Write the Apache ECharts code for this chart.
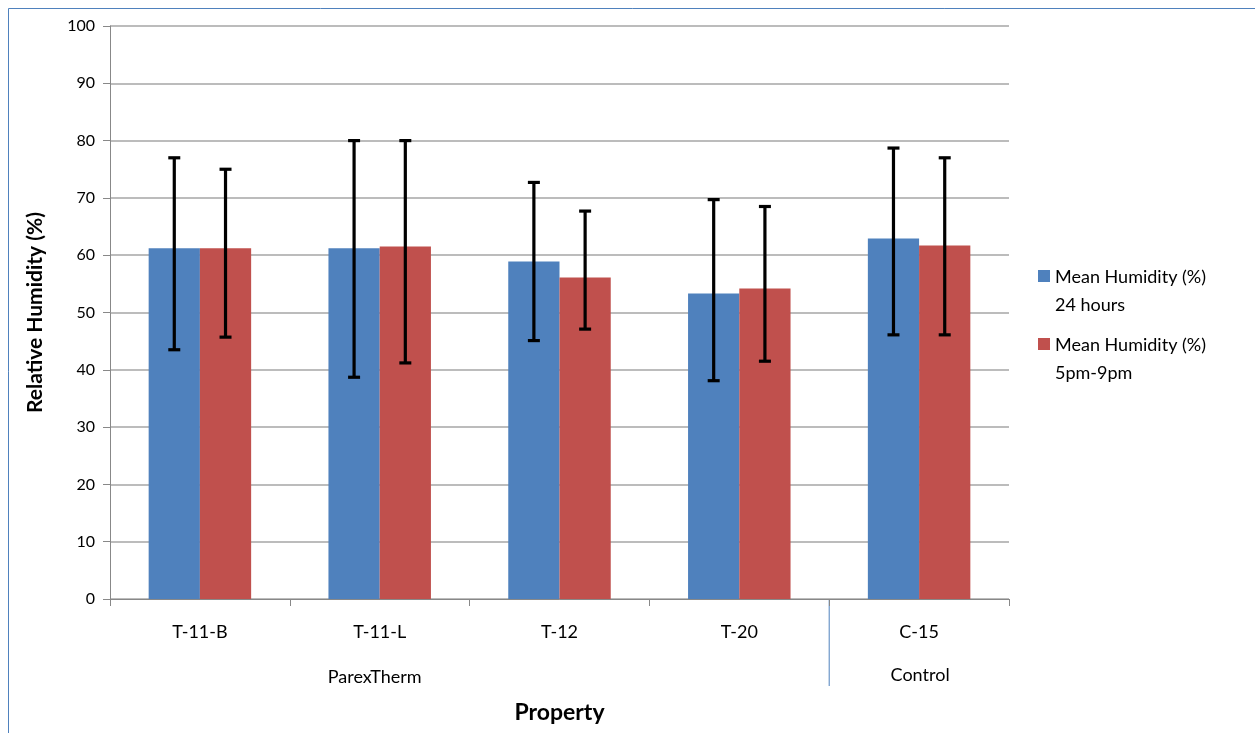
<!DOCTYPE html>
<html><head><meta charset="utf-8">
<script src="https://cdn.jsdelivr.net/npm/echarts@6/dist/echarts.min.js"></script>
<style>html,body{margin:0;padding:0;background:#fff}#c{width:1255px;height:733px}</style>
</head><body><div id="c"></div>
<script>
const categories = ['T-11-B','T-11-L','T-12','T-20','C-15'];
const seriesNames = ['Mean Humidity (%)\n24 hours','Mean Humidity (%)\n5pm-9pm'];
const mean24 = [61.2,61.2,58.9,53.3,62.9];
const mean5to9 = [61.2,61.5,56.1,54.2,61.7];
const err24Low = [43.5,38.7,45.1,38.1,46.1];
const err24High = [77.0,80.0,72.7,69.7,78.7];
const err59Low = [45.7,41.2,47.1,41.5,46.1];
const err59High = [75.0,80.0,67.7,68.5,77.0];
const groupNames = ['ParexTherm','Control'];
const yTicks = [0,10,20,30,40,50,60,70,80,90,100];

const FONT = 'Lato';
const chart = echarts.init(document.getElementById('c'));
const catGap = 0.43;

function errSeries(low, high, idx) {
  return {
    type: 'custom', z: 10,
    data: categories.map((c,i)=>[i, low[i], high[i]]),
    renderItem: function(params, api) {
      const band = api.size([1,0])[0];
      const bw = band*(1-catGap)/2;
      const off = (idx===0 ? -0.5 : 0.5)*bw;
      const lo = api.coord([api.value(0), api.value(1)]);
      const hi = api.coord([api.value(0), api.value(2)]);
      const x = lo[0] + off;
      const cap = 6;
      const st = {stroke:'#000', lineWidth:3.2};
      return {type:'group', children:[
        {type:'line', shape:{x1:x,y1:lo[1],x2:x,y2:hi[1]}, style:st},
        {type:'line', shape:{x1:x-cap,y1:lo[1],x2:x+cap,y2:lo[1]}, style:st},
        {type:'line', shape:{x1:x-cap,y1:hi[1],x2:x+cap,y2:hi[1]}, style:st}
      ]};
    }
  };
}

chart.setOption({
  animation: false,
  textStyle: {fontFamily: FONT},
  grid: {left:110, right:246, top:26, bottom:134},
  legend: {
    orient:'vertical', left:1033, top:258,
    data: seriesNames,
    itemWidth:12, itemHeight:42, itemGap:12,
    icon: 'path://M0,0H12V12H0Z M0,42H0.01V42.01H0Z',
    textStyle: {fontFamily:FONT, fontSize:18, color:'#000', lineHeight:28}
  },
  xAxis: {
    type:'category', data:categories,
    axisLine:{lineStyle:{color:'#888', width:1}},
    axisTick:{show:true, length:7, lineStyle:{color:'#888'}},
    axisLabel:{color:'#000', fontSize:18, margin:24, fontFamily:FONT},
    name:'Property', nameLocation:'middle', nameGap:102,
    nameTextStyle:{fontSize:23, fontWeight:'bold', color:'#000', fontFamily:FONT}
  },
  yAxis: {
    type:'value', min:0, max:100, interval:10,
    axisLine:{show:true, lineStyle:{color:'#888'}},
    axisTick:{show:true, length:7, lineStyle:{color:'#888'}},
    axisLabel:{color:'#000', fontSize:16, margin:15, fontFamily:FONT,
      formatter: v => yTicks.indexOf(v) >= 0 ? String(v) : ''},
    splitLine:{lineStyle:{color:'#a6a6a6', width:1.5}},
    name:'Relative Humidity (%)', nameLocation:'middle', nameGap:64, nameRotate:90,
    nameTextStyle:{fontSize:21, fontWeight:'bold', color:'#000', fontFamily:FONT}
  },
  series: [
    {name:seriesNames[0], type:'bar', data:mean24, barGap:'0%', barCategoryGap:(catGap*100)+'%',
     itemStyle:{color:'#4F81BD'}},
    {name:seriesNames[1], type:'bar', data:mean5to9, barGap:'0%', barCategoryGap:(catGap*100)+'%',
     itemStyle:{color:'#C0504D'}},
    errSeries(err24Low, err24High, 0),
    errSeries(err59Low, err59High, 1)
  ]
});

// group separators and group labels
const y0 = chart.convertToPixel({yAxisIndex:0}, 0);
const xA = chart.convertToPixel({xAxisIndex:0}, 'T-20');
const xB = chart.convertToPixel({xAxisIndex:0}, 'C-15');
const sepX = (xA + xB)/2;
const xL = chart.convertToPixel({xAxisIndex:0}, 'T-11-L');
chart.setOption({
  graphic: [
    {type:'rect', shape:{x:8.5,y:8.5,width:1300,height:800}, style:{fill:'none', stroke:'#4F81BD', lineWidth:1}, silent:true},
    {type:'line', shape:{x1:sepX,y1:y0,x2:sepX,y2:y0+87}, style:{stroke:'#4F81BD', lineWidth:1}},
    {type:'text', x:xL-5, y:y0+78, style:{text:groupNames[0], fontFamily:FONT, fontSize:18, fill:'#000', textAlign:'center', textVerticalAlign:'middle'}},
    {type:'text', x:xB+1, y:y0+76, style:{text:groupNames[1], fontFamily:FONT, fontSize:18, fill:'#000', textAlign:'center', textVerticalAlign:'middle'}}
  ]
});
</script>
</body></html>
